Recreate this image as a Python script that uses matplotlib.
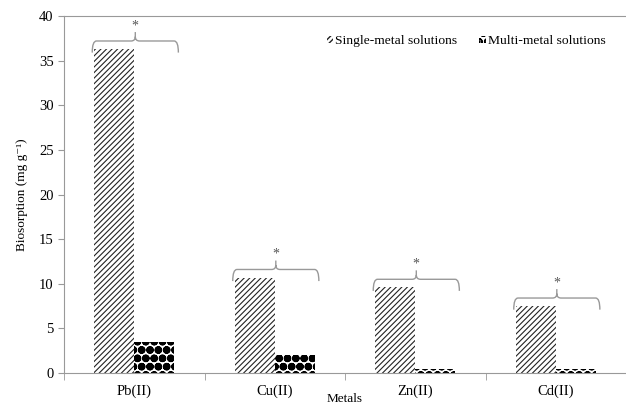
import matplotlib
matplotlib.use("Agg")
import matplotlib.pyplot as plt
from matplotlib.path import Path
from matplotlib.patches import PathPatch
import numpy as np

plt.rcParams['font.family'] = ['Liberation Serif', 'DejaVu Serif']

metals = ["Pb(II)", "Cu(II)", "Zn(II)", "Cd(II)"]
single = [36.3, 10.7, 9.6, 7.5]
multi = [3.5, 2.0, 0.45, 0.5]

fig = plt.figure(figsize=(6.26, 4.04), dpi=100)
ax = fig.add_axes([64/626, 31/404, 562/626, 357/404])

x = np.arange(len(metals))
w = 0.284
with plt.rc_context({'hatch.linewidth': 0.8}):
    ax.bar(x - w/2, single, w, color="white", edgecolor="#222222", hatch="//////",
           linewidth=0, label="Single-metal solutions")
with plt.rc_context({'hatch.linewidth': 1.3}):
    ax.bar(x + w/2, multi, w, color="white", edgecolor="black", hatch="OO..",
           linewidth=0, label="Multi-metal solutions")

# curly braces with asterisk
for i, v in enumerate(single):
    x0 = i - w - 0.015
    x1 = i + w + 0.03
    yb = v + 0.9
    xm = (x0 + x1) / 2
    rx, ry = 0.03, 0.5
    verts = [(x0, yb - 1.3), (x0, yb), (x0 + rx, yb),
             (xm - rx, yb), (xm, yb), (xm, yb + ry),
             (xm, yb + 1.0),
             (xm, yb + ry), (xm, yb), (xm + rx, yb),
             (x1 - rx, yb), (x1, yb), (x1, yb - 1.3)]
    codes = [Path.MOVETO, Path.CURVE3, Path.CURVE3,
             Path.LINETO, Path.CURVE3, Path.CURVE3,
             Path.LINETO,
             Path.MOVETO, Path.CURVE3, Path.CURVE3,
             Path.LINETO, Path.CURVE3, Path.CURVE3]
    ax.add_patch(PathPatch(Path(verts, codes), fill=False, edgecolor="#999999", lw=1))
    ax.text(xm, yb + 1.0, "*", ha="center", va="bottom", fontsize=10, color="#555555")

ax.set_xlim(-0.5, 3.485)
ax.set_ylim(0, 40)
ax.set_yticks(range(0, 41, 5))
ax.set_xticks(x)
ax.set_xticklabels(metals, fontsize=10.5)
ax.set_xticks(np.arange(-0.5, 4, 1), minor=True)
ax.tick_params(axis="x", which="major", length=0, pad=8)
ax.tick_params(axis="x", which="minor", length=5, color="#999999", direction="out")
ax.tick_params(axis="y", length=4, color="#999999", labelsize=10.5)

for s in ["left", "bottom", "top"]:
    ax.spines[s].set_color("#999999")
ax.spines["right"].set_visible(False)

ax.set_ylabel("Biosorption (mg g⁻¹)", fontsize=9.5, labelpad=8)
ax.set_xlabel("Metals", fontsize=9.5, labelpad=-3)

ax.legend(loc="upper right", ncol=2, frameon=False, fontsize=9.7,
          handlelength=0.5, handleheight=0.5, handletextpad=0.15, columnspacing=1.6,
          bbox_to_anchor=(0.985, 0.98))

fig.savefig("out.png", dpi=100)
